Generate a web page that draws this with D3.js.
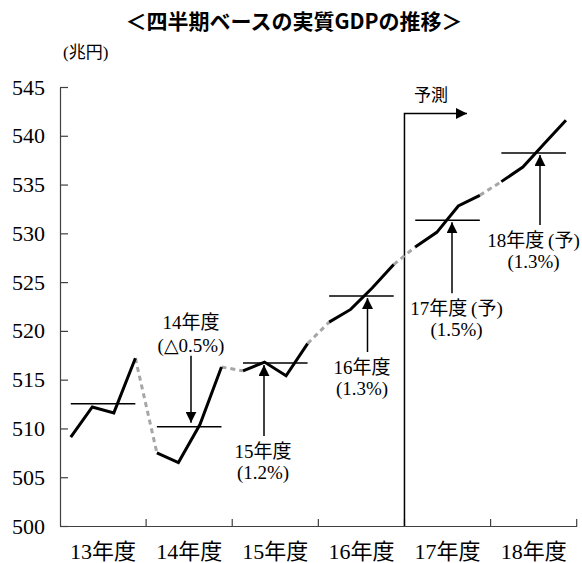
<!DOCTYPE html>
<html>
<head>
<meta charset="utf-8">
<script src="https://cdn.jsdelivr.net/npm/d3@7"></script>
<style>
  html, body { margin: 0; padding: 0; background: #fff; }
  svg { display: block; }
</style>
</head>
<body>
<svg id="chart" width="582" height="563"></svg>
<script>
// Fiscal years shown on the x axis
const years = ["13年度", "14年度", "15年度", "16年度", "17年度", "18年度"];

// Quarterly real GDP (trillion yen), Q1..Q4 of each fiscal year
const gdp13 = [509.1, 512.2, 511.6, 517.2];
const gdp14 = [507.5, 506.5, 510.4, 516.3];
const gdp15 = [515.9, 516.8, 515.4, 518.7];
const gdp16 = [520.9, 522.2, 524.4, 526.8];
const gdp17 = [528.6, 530.1, 532.8, 533.9];
const gdp18 = [535.3, 536.8, 539.2, 541.6];
const quarterly = [gdp13, gdp14, gdp15, gdp16, gdp17, gdp18];

// Annual growth annotations
const growthNames = [null, "14年度", "15年度", "16年度", "17年度\u2009(予)", "18年度\u2009(予)"];
const growthRates = [null, "(△0.5%)", "(1.2%)", "(1.3%)", "(1.5%)", "(1.3%)"];

// Y axis ticks
const yTicks = [500, 505, 510, 515, 520, 525, 530, 535, 540, 545];

const forecastStart = "17年度";
const forecastLabel = "予測";
const title = "＜四半期ベースの実質GDPの推移＞";
const unitLabel = "(兆円)";

(function draw() {
const SERIF = "'Liberation Serif', 'Times New Roman', 'DejaVu Serif', 'Noto Sans CJK JP', serif";
const svg = d3.select("#chart");
const plotLeft = 60, plotRight = 576.7, plotTop = 87, plotBottom = 526;

const x = d3.scaleBand().domain(years).range([plotLeft, plotRight]).padding(0);
const y = d3.scaleLinear().domain([500, 545]).range([plotBottom, plotTop]);
const qx = (yi, q) => x(years[yi]) + (q + 0.5) * x.bandwidth() / 4;

// Title and unit
svg.append("text")
  .attr("x", 294).attr("y", 29)
  .attr("text-anchor", "middle")
  .style("font-family", "'Noto Sans CJK JP', sans-serif")
  .style("font-weight", "bold")
  .style("font-size", "21px")
  .text(title);

svg.append("text")
  .attr("x", 63).attr("y", 58)
  .style("font-family", SERIF)
  .style("font-size", "17px")
  .text(unitLabel);

// Y axis (ticks point inward)
const yAxis = svg.append("g")
  .attr("transform", `translate(${plotLeft},0)`)
  .call(d3.axisLeft(y).tickValues(yTicks).tickSizeInner(-8).tickSizeOuter(0).tickPadding(15));
yAxis.attr("font-family", null);
yAxis.selectAll("path, line").attr("stroke", "#404040").attr("stroke-width", 1.2);
yAxis.selectAll("text").style("font-family", SERIF).style("font-size", "22px").attr("fill", "#000");

// X axis: labels at band centres, ticks at band boundaries
const xAxis = svg.append("g")
  .attr("transform", `translate(0,${plotBottom})`)
  .call(d3.axisBottom(x).tickSize(0).tickPadding(17));
xAxis.attr("font-family", null);
xAxis.select("path").attr("stroke", "#404040").attr("stroke-width", 1.2);
xAxis.selectAll("text").style("font-family", SERIF).style("font-size", "22px").attr("fill", "#000");
xAxis.selectAll(".bound").data(years).enter().append("line")
  .attr("class", "bound")
  .attr("x1", d => x(d) + x.bandwidth()).attr("x2", d => x(d) + x.bandwidth())
  .attr("y1", 0).attr("y2", -7)
  .attr("stroke", "#404040").attr("stroke-width", 1.2);

// Arrowhead marker
const defs = svg.append("defs");
defs.append("marker")
  .attr("id", "head")
  .attr("viewBox", "0 0 10 10")
  .attr("refX", 10).attr("refY", 5)
  .attr("markerWidth", 11).attr("markerHeight", 11)
  .attr("markerUnits", "userSpaceOnUse")
  .attr("orient", "auto")
  .append("path").attr("d", "M0,0 L10,5 L0,10 Z").attr("fill", "#000");

// Forecast divider
const fx = x(forecastStart);
svg.append("path")
  .attr("d", `M${fx},${plotBottom} L${fx},113.5 L467,113.5`)
  .attr("fill", "none").attr("stroke", "#000").attr("stroke-width", 1.5)
  .attr("marker-end", "url(#head)");
svg.append("text")
  .attr("x", 431).attr("y", 101)
  .attr("text-anchor", "middle")
  .style("font-family", SERIF)
  .style("font-size", "17px")
  .text(forecastLabel);

// Dashed grey links between fiscal years
const line = d3.line().x(d => d[0]).y(d => d[1]);
for (let i = 0; i < quarterly.length - 1; i++) {
  svg.append("path")
    .attr("d", line([[qx(i, 3), y(quarterly[i][3])], [qx(i + 1, 0), y(quarterly[i + 1][0])]]))
    .attr("fill", "none").attr("stroke", "#a6a6a6").attr("stroke-width", 3)
    .attr("stroke-dasharray", "5,4");
}

// Quarterly series, one solid segment per fiscal year
quarterly.forEach((vals, i) => {
  svg.append("path")
    .attr("d", line(vals.map((v, q) => [qx(i, q), y(v)])))
    .attr("fill", "none").attr("stroke", "#000").attr("stroke-width", 3)
    .attr("stroke-linejoin", "miter");
});

// Annual average levels
const means = quarterly.map(v => d3.mean(v));
quarterly.forEach((vals, i) => {
  svg.append("line")
    .attr("x1", qx(i, 0)).attr("x2", qx(i, 3))
    .attr("y1", y(means[i])).attr("y2", y(means[i]))
    .attr("stroke", "#000").attr("stroke-width", 1.5);
});

// Growth annotations: arrow placement per year
const arrowX = [null, 191, 264, 367.5, 452, 540];
const labelX = [null, 191, 263, 362, 456.5, 533.5];
const arrowLen = [null, 71, 73, 56, 73, 72];
const arrowDown = [null, true, false, false, false, false];

for (let i = 1; i < years.length; i++) {
  const ly = y(means[i]);
  const g = svg.append("g")
    .style("font-family", SERIF).style("font-size", "19px")
    .attr("text-anchor", "middle");
  let tail, tip;
  if (arrowDown[i]) {
    tail = ly - arrowLen[i]; tip = ly - 4;
    g.append("text").attr("x", labelX[i]).attr("y", tail - 27).text(growthNames[i]);
    g.append("text").attr("x", labelX[i]).attr("y", tail - 4).text(growthRates[i]);
  } else {
    tail = ly + arrowLen[i]; tip = ly + 2;
    g.append("text").attr("x", labelX[i]).attr("y", tail + 22).text(growthNames[i]);
    g.append("text").attr("x", labelX[i]).attr("y", tail + 43).text(growthRates[i]);
  }
  g.append("line")
    .attr("x1", arrowX[i]).attr("x2", arrowX[i])
    .attr("y1", tail).attr("y2", tip)
    .attr("stroke", "#000").attr("stroke-width", 1.5)
    .attr("marker-end", "url(#head)");
}
})();
</script>
</body>
</html>
